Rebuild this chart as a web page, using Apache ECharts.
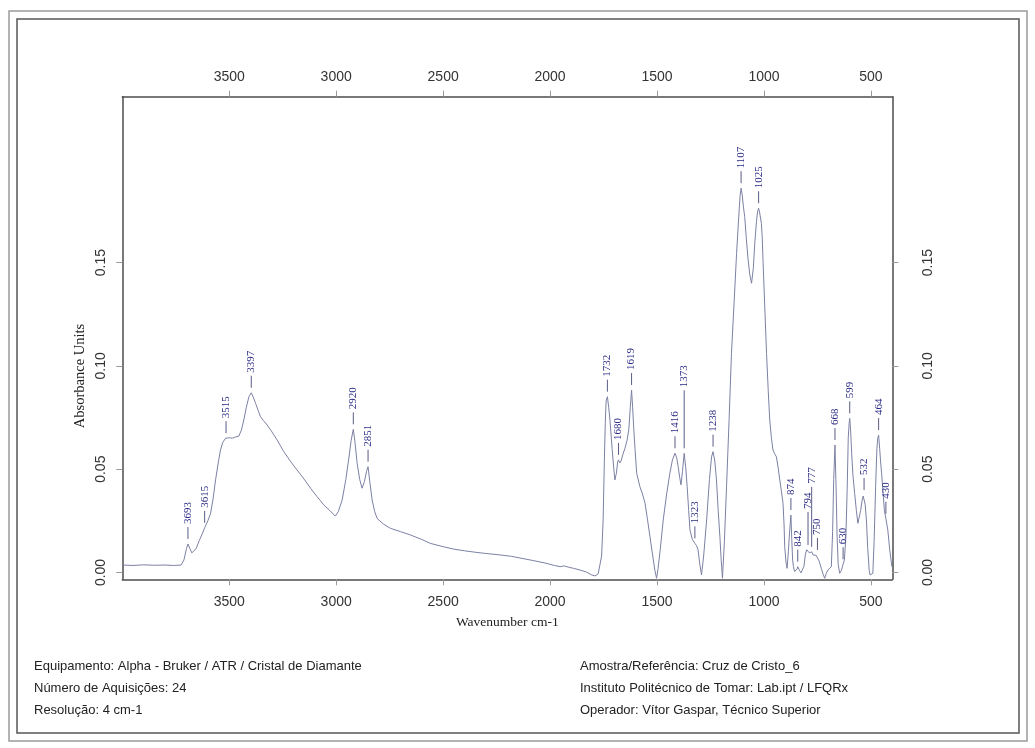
<!DOCTYPE html>
<html>
<head>
<meta charset="utf-8">
<script src="https://cdn.jsdelivr.net/npm/echarts@6/dist/echarts.min.js"></script>
<style>
  html, body { margin: 0; padding: 0; background: #ffffff; }
  #chart { width: 1035px; height: 748px; }
</style>
</head>
<body>
<div id="chart"></div>
<script>
// FTIR-ATR spectrum, wavenumber (cm-1) vs absorbance
const wavenumbers = [
  3997, 3950, 3900, 3850, 3800, 3760, 3725, 3712, 3700, 3693, 3685, 3675, 3668, 3655, 3640,
  3625, 3615, 3600, 3587, 3575, 3564, 3550, 3541, 3530, 3517, 3500, 3486, 3470, 3455, 3443,
  3432, 3420, 3408, 3397, 3388, 3377, 3365, 3354, 3340, 3323, 3300, 3276, 3260, 3245, 3215,
  3183, 3150, 3120, 3090, 3058, 3030, 3004, 2990, 2972, 2955, 2942, 2930, 2920, 2912, 2902,
  2890, 2879, 2868, 2858, 2851, 2843, 2832, 2820, 2809, 2780, 2747, 2700, 2654, 2600, 2560,
  2500, 2450, 2400, 2350, 2300, 2234, 2180, 2140, 2080, 2020, 1980, 1953, 1935, 1915, 1890,
  1860, 1830, 1805, 1790, 1775, 1766, 1759, 1752, 1746, 1742, 1738, 1732, 1726, 1720, 1710,
  1702, 1697, 1690, 1684, 1680, 1674, 1668, 1660, 1650, 1640, 1632, 1625, 1619, 1614, 1609,
  1603, 1595, 1580, 1568, 1556, 1545, 1533, 1520, 1510, 1502, 1495, 1485, 1471, 1455, 1440,
  1428, 1416, 1408, 1401, 1394, 1388, 1381, 1373, 1366, 1359, 1352, 1346, 1335, 1323, 1315,
  1308, 1300, 1292, 1282, 1268, 1255, 1245, 1238, 1230, 1222, 1214, 1206, 1200, 1194, 1185,
  1175, 1163, 1152, 1140, 1128, 1118, 1112, 1107, 1102, 1096, 1090, 1082, 1074, 1066, 1058,
  1050, 1043, 1035, 1030, 1025, 1020, 1012, 1008, 1004, 996, 988, 980, 973, 965, 958,
  950, 942, 934, 926, 918, 911, 906, 903, 897, 892, 886, 880, 874, 870, 866,
  862, 857, 851, 846, 842, 834, 827, 821, 813, 806, 800, 794, 788, 783, 777,
  770, 763, 756, 750, 742, 732, 723, 716, 709, 701, 693, 685, 679, 674, 668,
  663, 658, 653, 646, 638, 630, 624, 617, 611, 606, 602, 599, 595, 590, 584,
  576, 568, 561, 555, 548, 541, 536, 532, 527, 521, 515, 508, 504, 497, 491,
  485, 478, 472, 468, 464, 459, 455, 450, 444, 437, 430, 421, 412, 402
];
const absorbance = [
  0.0036, 0.0034, 0.0037, 0.0035, 0.0036, 0.0034, 0.0036, 0.0060, 0.0115, 0.0138, 0.0118, 0.0095, 0.0093, 0.0115, 0.0155,
  0.0190, 0.0216, 0.0250, 0.0287, 0.0360, 0.0448, 0.0540, 0.0593, 0.0630, 0.0650, 0.0652, 0.0650, 0.0656, 0.0660, 0.0690,
  0.0738, 0.0800, 0.0851, 0.0870, 0.0850, 0.0819, 0.0785, 0.0754, 0.0735, 0.0714, 0.0680, 0.0641, 0.0612, 0.0585, 0.0540,
  0.0496, 0.0452, 0.0408, 0.0368, 0.0327, 0.0300, 0.0273, 0.0295, 0.0351, 0.0450, 0.0545, 0.0640, 0.0693, 0.0630, 0.0528,
  0.0450, 0.0408, 0.0440, 0.0490, 0.0512, 0.0440, 0.0351, 0.0295, 0.0262, 0.0235, 0.0214, 0.0198, 0.0182, 0.0160, 0.0141,
  0.0125, 0.0113, 0.0105, 0.0098, 0.0092, 0.0085, 0.0078, 0.0070, 0.0058, 0.0045, 0.0034, 0.0028, 0.0032, 0.0026, 0.0020,
  0.0012, 0.0002, -0.0012, -0.0017, -0.0006, -0.0002, 0.0080, 0.0254, 0.0550, 0.0720, 0.0830, 0.0851, 0.0800, 0.0738, 0.0600,
  0.0500, 0.0448, 0.0480, 0.0535, 0.0545, 0.0530, 0.0540, 0.0570, 0.0601, 0.0640, 0.0690, 0.0800, 0.0883, 0.0800, 0.0700,
  0.0600, 0.0480, 0.0415, 0.0380, 0.0335, 0.0260, 0.0173, 0.0080, 0.0010, -0.0028, 0.0020, 0.0110, 0.0254, 0.0380, 0.0480,
  0.0545, 0.0577, 0.0555, 0.0512, 0.0460, 0.0424, 0.0490, 0.0577, 0.0510, 0.0415, 0.0300, 0.0206, 0.0160, 0.0141, 0.0130,
  0.0109, 0.0040, -0.0012, 0.0080, 0.0254, 0.0450, 0.0560, 0.0585, 0.0540, 0.0448, 0.0300, 0.0173, 0.0060, -0.0028, 0.0150,
  0.0415, 0.0740, 0.1060, 0.1300, 0.1545, 0.1720, 0.1820, 0.1860, 0.1830, 0.1770, 0.1722, 0.1610, 0.1513, 0.1440, 0.1400,
  0.1470, 0.1593, 0.1700, 0.1745, 0.1763, 0.1740, 0.1690, 0.1620, 0.1497, 0.1280, 0.1060, 0.0880, 0.0738, 0.0650, 0.0593,
  0.0575, 0.0560, 0.0510, 0.0448, 0.0390, 0.0335, 0.0230, 0.0125, 0.0050, 0.0020, 0.0100, 0.0200, 0.0278, 0.0160, 0.0060,
  0.0028, 0.0005, -0.0004, 0.0015, 0.0028, 0.0010, -0.0002, -0.0007, 0.0030, 0.0090, 0.0110, 0.0109, 0.0095, 0.0102, 0.0100,
  0.0085, 0.0077, 0.0083, 0.0085, 0.0055, 0.0020, -0.0010, -0.0028, -0.0005, 0.0012, 0.0020, 0.0028, 0.0200, 0.0450, 0.0617,
  0.0420, 0.0173, 0.0040, -0.0004, 0.0010, 0.0040, 0.0060, 0.0173, 0.0400, 0.0650, 0.0720, 0.0746, 0.0690, 0.0577, 0.0470,
  0.0383, 0.0300, 0.0238, 0.0245, 0.0300, 0.0350, 0.0370, 0.0375, 0.0330, 0.0254, 0.0120, 0.0010, -0.0012, -0.0010, -0.0004,
  0.0150, 0.0415, 0.0600, 0.0650, 0.0665, 0.0600, 0.0540, 0.0480, 0.0400, 0.0300, 0.0260, 0.0206, 0.0110, 0.0028
];

// Wavenumbers annotated on the spectrum
const peakLabels = [
  3693, 3615, 3515, 3397, 2920, 2851, 1732, 1680, 1619, 1416, 1373, 1323, 1238,
  1107, 1025, 874, 842, 794, 777, 750, 668, 630, 599, 532, 464, 430
];

const xTicks = [500, 1000, 1500, 2000, 2500, 3000, 3500];
const yTicks = [0, 0.05, 0.10, 0.15];

const infoLeft = [
  'Equipamento: Alpha - Bruker / ATR / Cristal de Diamante',
  'Número de Aquisições: 24',
  'Resolução: 4 cm-1'
];
const infoRight = [
  'Amostra/Referência: Cruz de Cristo_6',
  'Instituto Politécnico de Tomar: Lab.ipt / LFQRx',
  'Operador: Vítor Gaspar, Técnico Superior'
];

// leader lengths (px) for labels that are lifted above their neighbours
const leaderLength = { 1373: 58, 794: 33, 777: 60 };

// absorbance on the measured curve at a given wavenumber (linear between samples)
function absorbanceAt(wn) {
  for (let i = 0; i < wavenumbers.length - 1; i++) {
    const a = wavenumbers[i], b = wavenumbers[i + 1];
    if (wn <= a && wn >= b) {
      const t = (a - wn) / (a - b);
      return absorbance[i] + t * (absorbance[i + 1] - absorbance[i]);
    }
  }
  return 0;
}

const spectrum = wavenumbers.map((w, i) => [w, absorbance[i]]);
const peaks = peakLabels.map(w => [w, absorbanceAt(w)]);

const frameColor = '#4d4d4d';
const tickColor = '#9a9a9a';
const labelFont = { fontFamily: 'Liberation Sans', fontSize: 14, color: '#333333' };

function xAxisDef(position, named, margin) {
  return {
    type: 'value', position: position, min: 400, max: 4000, inverse: true,
    name: named ? 'Wavenumber cm-1' : '',
    nameLocation: 'middle', nameGap: 36,
    nameTextStyle: { fontFamily: 'Liberation Serif', fontSize: 13.5, color: '#222222' },
    axisLine: { show: true, onZero: false, lineStyle: { color: frameColor, width: 1.5 } },
    axisTick: { show: true, customValues: xTicks, length: 6, inside: false, lineStyle: { color: tickColor } },
    axisLabel: Object.assign({ customValues: xTicks, margin: margin, formatter: v => String(v) }, labelFont),
    splitLine: { show: false }
  };
}
function yAxisDef(position, margin) {
  return {
    type: 'value', position: position, min: -0.0033, max: 0.2303,
    axisLine: { show: true, onZero: false, lineStyle: { color: frameColor, width: 1.5 } },
    axisTick: { show: true, customValues: yTicks, length: 6, lineStyle: { color: tickColor } },
    axisLabel: Object.assign({
      customValues: yTicks, rotate: 90, margin: margin,
      formatter: v => v.toFixed(2)
    }, labelFont),
    splitLine: { show: false }
  };
}

const infoTexts = [];
infoLeft.forEach((t, i) => infoTexts.push({
  type: 'text', left: 34, top: 660 + i * 22,
  style: { text: t, font: '13px "Liberation Sans"', fill: '#222222' }
}));
infoRight.forEach((t, i) => infoTexts.push({
  type: 'text', left: 580, top: 660 + i * 22,
  style: { text: t, font: '13px "Liberation Sans"', fill: '#222222' }
}));

const chart = echarts.init(document.getElementById('chart'), null, { renderer: 'canvas' });
chart.setOption({
  animation: false,
  backgroundColor: '#ffffff',
  grid: { left: 122.3, right: 142.7, top: 96.7, bottom: 168.7 },
  xAxis: [xAxisDef('bottom', true, 16), xAxisDef('top', false, 13)],
  yAxis: [yAxisDef('left', 14), yAxisDef('right', 29)],
  graphic: [
    { type: 'rect', shape: { x: 9, y: 11, width: 1018, height: 730 }, style: { fill: 'none', stroke: '#9a9a9a', lineWidth: 1.5 } },
    { type: 'rect', shape: { x: 17, y: 19, width: 1002, height: 714 }, style: { fill: 'none', stroke: '#555555', lineWidth: 1.5 } },
    { type: 'text', x: 80, y: 376, rotation: Math.PI / 2,
      style: { text: 'Absorbance Units', font: '14.5px "Liberation Serif"', fill: '#222222', align: 'center', verticalAlign: 'middle' } }
  ].concat(infoTexts),
  series: [
    {
      type: 'line', xAxisIndex: 0, yAxisIndex: 0,
      data: spectrum, showSymbol: false, symbol: 'none',
      lineStyle: { color: '#7c81a3', width: 1 },
      z: 3
    },
    {
      type: 'custom', xAxisIndex: 0, yAxisIndex: 0,
      data: peaks, z: 4,
      renderItem: function (params, api) {
        const wn = api.value(0);
        const p = api.coord([wn, api.value(1)]);
        const lead = leaderLength[wn] || 12;
        const y0 = p[1] - 5;
        const y1 = y0 - lead;
        return {
          type: 'group',
          children: [
            { type: 'line', shape: { x1: p[0], y1: y0, x2: p[0], y2: y1 },
              style: { stroke: '#5a5c86', lineWidth: 1 } },
            { type: 'text', x: p[0], y: y1 - 3, rotation: Math.PI / 2,
              style: { text: String(wn), fontFamily: 'Liberation Serif', fontSize: 11,
                       fill: '#2b2b86', align: 'left', verticalAlign: 'middle' } }
          ]
        };
      }
    }
  ]
});
</script>
</body>
</html>
